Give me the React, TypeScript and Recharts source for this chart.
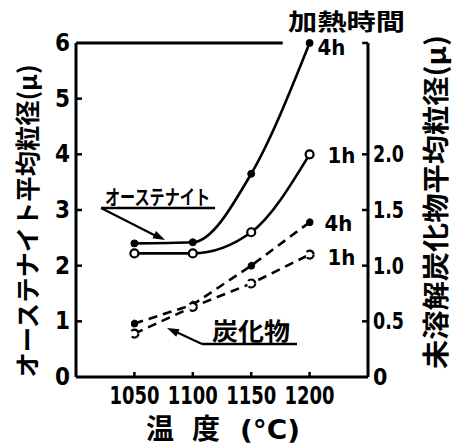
import { ComposedChart, Line, XAxis, YAxis, ReferenceLine, LabelList } from "recharts";

// temperatures (°C)
const temps = [1050, 1100, 1150, 1200];
// austenite grain size, left axis (μ)
const austenite4h = [2.4, 2.42, 3.65, 6.0];
const austenite1h = [2.22, 2.22, 2.6, 4.0];
// undissolved carbide grain size, right axis (μ)
const carbide4h = [0.48, 0.65, 1.0, 1.39];
const carbide1h = [0.39, 0.63, 0.84, 1.1];

const xTicks = [1050, 1100, 1150, 1200];
const leftTicks = [0, 1, 2, 3, 4, 5, 6];
const rightTicks = [0, 0.5, 1.0, 1.5, 2.0];
const rightTickLabels = ["0", "0.5", "1.0", "1.5", "2.0"];

const data = temps.map((t, i) => ({
  t,
  a4: austenite4h[i],
  a1: austenite1h[i],
  c4: carbide4h[i],
  c1: carbide1h[i],
}));

const NUM = "'DejaVu Sans Condensed', 'Liberation Sans Narrow', sans-serif";
const JP = "'Noto Sans CJK JP', 'Noto Sans CJK SC', sans-serif";
const INK = "#000";

const filledDot = { r: 3.5, fill: INK, stroke: INK, strokeWidth: 1 };
const openDot = { r: 4, fill: "#fff", stroke: INK, strokeWidth: 2.2 };

const LeftTick = ({ x, y, payload }: any) => (
  <g>
    {payload.value > 0 && payload.value < 6 && (
      <line x1={x} x2={x + 6} y1={y} y2={y} stroke={INK} strokeWidth={2.5} />
    )}
    <text x={x - 6} y={y} dy={8} textAnchor="end" fontSize={24} fontWeight={700} fontFamily={NUM} fill={INK}>
      {payload.value}
    </text>
  </g>
);

const RightTick = ({ x, y, payload }: any) => {
  const label = rightTickLabels[rightTicks.indexOf(payload.value)];
  return (
    <g>
      {payload.value > 0 && <line x1={x - 6} x2={x} y1={y} y2={y} stroke={INK} strokeWidth={2.5} />}
      <text
        x={x + 5}
        y={y}
        dy={8}
        textAnchor="start"
        fontSize={23}
        fontWeight={700}
        fontFamily={NUM}
        fill={INK}
        textLength={label.length > 1 ? 31 : undefined}
        lengthAdjust="spacingAndGlyphs"
      >
        {label}
      </text>
    </g>
  );
};

const BottomTick = ({ x, y, payload }: any) => (
  <g>
    <line x1={x} x2={x} y1={y - 5} y2={y} stroke={INK} strokeWidth={2.5} />
    <text
      x={x - 25}
      y={y + 27}
      fontSize={24}
      fontWeight={700}
      fontFamily={NUM}
      fill={INK}
      textLength={50}
      lengthAdjust="spacingAndGlyphs"
    >
      {payload.value}
    </text>
  </g>
);

const endLabel = (text: string, dx: number, dy: number) => (p: any) =>
  p.index === temps.length - 1 ? (
    <text x={p.x + dx} y={p.y + dy} fontSize={22} fontWeight={700} fontFamily={NUM} fill={INK}>
      {text}
    </text>
  ) : null;

function arrowHead(tx: number, ty: number, fx: number, fy: number, len = 12, half = 4) {
  const a = Math.atan2(ty - fy, tx - fx);
  const bx = tx - len * Math.cos(a);
  const by = ty - len * Math.sin(a);
  const px = -Math.sin(a) * half;
  const py = Math.cos(a) * half;
  return `${tx},${ty} ${bx + px},${by + py} ${bx - px},${by - py}`;
}

export default function App() {
  return (
    <div style={{ position: "absolute", left: 0, top: 0, width: 461, height: 446, background: "#fff" }}>
      <ComposedChart width={461} height={446} data={data} margin={{ top: 43, right: 53, bottom: 39, left: 36 }}>
        <XAxis
          dataKey="t"
          type="number"
          domain={[1000, 1250]}
          ticks={xTicks}
          height={30}
          tickSize={0}
          tickMargin={0}
          tick={<BottomTick />}
          axisLine={{ stroke: INK, strokeWidth: 3 }}
        />
        <YAxis
          yAxisId="left"
          domain={[0, 6]}
          ticks={leftTicks}
          width={40}
          tickSize={0}
          tickMargin={0}
          tick={<LeftTick />}
          axisLine={{ stroke: INK, strokeWidth: 3 }}
        />
        <YAxis
          yAxisId="right"
          orientation="right"
          domain={[0, 3]}
          ticks={rightTicks}
          width={40}
          tickSize={0}
          tickMargin={0}
          tick={<RightTick />}
          axisLine={{ stroke: INK, strokeWidth: 3 }}
        />
        <ReferenceLine
          yAxisId="left"
          segment={[{ x: 1000, y: 6 }, { x: 1177, y: 6 }]}
          stroke={INK}
          strokeWidth={3}
        />
        <ReferenceLine
          yAxisId="left"
          segment={[{ x: 1245, y: 6 }, { x: 1250, y: 6 }]}
          stroke={INK}
          strokeWidth={2.5}
        />
        <Line yAxisId="left" dataKey="a4" type="monotone" stroke={INK} strokeWidth={2.6} dot={filledDot} isAnimationActive={false}>
          <LabelList dataKey="a4" content={endLabel("4h", 8, 12)} />
        </Line>
        <Line yAxisId="left" dataKey="a1" type="monotone" stroke={INK} strokeWidth={2.6} dot={openDot} isAnimationActive={false}>
          <LabelList dataKey="a1" content={endLabel("1h", 18, 9)} />
        </Line>
        <Line yAxisId="right" dataKey="c4" type="linear" stroke={INK} strokeWidth={2.6} strokeDasharray="9 6" dot={filledDot} isAnimationActive={false}>
          <LabelList dataKey="c4" content={endLabel("4h", 15, 9)} />
        </Line>
        <Line yAxisId="right" dataKey="c1" type="linear" stroke={INK} strokeWidth={2.6} strokeDasharray="9 6" dot={openDot} isAnimationActive={false}>
          <LabelList dataKey="c1" content={endLabel("1h", 18, 10)} />
        </Line>
      </ComposedChart>
      <svg width={461} height={446} style={{ position: "absolute", left: 0, top: 0, pointerEvents: "none" }}>
        <g fontFamily={JP} fontWeight={700} fill={INK}>
          <text x={288} y={30} fontSize={23} textLength={117} lengthAdjust="spacingAndGlyphs">加熱時間</text>
          <text transform="translate(37,221) rotate(-90)" textAnchor="middle" fontSize={25} textLength={313} lengthAdjust="spacingAndGlyphs">
            オーステナイト平均粒径(μ)
          </text>
          <text transform="translate(446,202) rotate(-90)" textAnchor="middle" fontSize={27} textLength={334} lengthAdjust="spacingAndGlyphs">
            未溶解炭化物平均粒径(μ)
          </text>
          <text x={160} y={439} textAnchor="middle" fontSize={28}>温</text>
          <text x={206} y={439} textAnchor="middle" fontSize={28}>度</text>
          <text x={240} y={439} fontSize={26} fontFamily={NUM} textLength={60} lengthAdjust="spacingAndGlyphs">(°C)</text>
          <text x={105} y={205} fontSize={20} textLength={105} lengthAdjust="spacingAndGlyphs">オーステナイト</text>
          <text x={212} y={340} fontSize={24} textLength={78} lengthAdjust="spacingAndGlyphs">炭化物</text>
        </g>
        <line x1={101} y1={208} x2={215} y2={208} stroke={INK} strokeWidth={2.5} />
        <line x1={101} y1={208} x2={160} y2={238} stroke={INK} strokeWidth={2.2} />
        <polygon points={arrowHead(165, 240, 101, 208)} fill={INK} />
        <line x1={202} y1={344} x2={297} y2={344} stroke={INK} strokeWidth={2.5} />
        <line x1={202} y1={344} x2={172} y2={330} stroke={INK} strokeWidth={2.2} />
        <polygon points={arrowHead(167, 328, 202, 344)} fill={INK} />
      </svg>
    </div>
  );
}
